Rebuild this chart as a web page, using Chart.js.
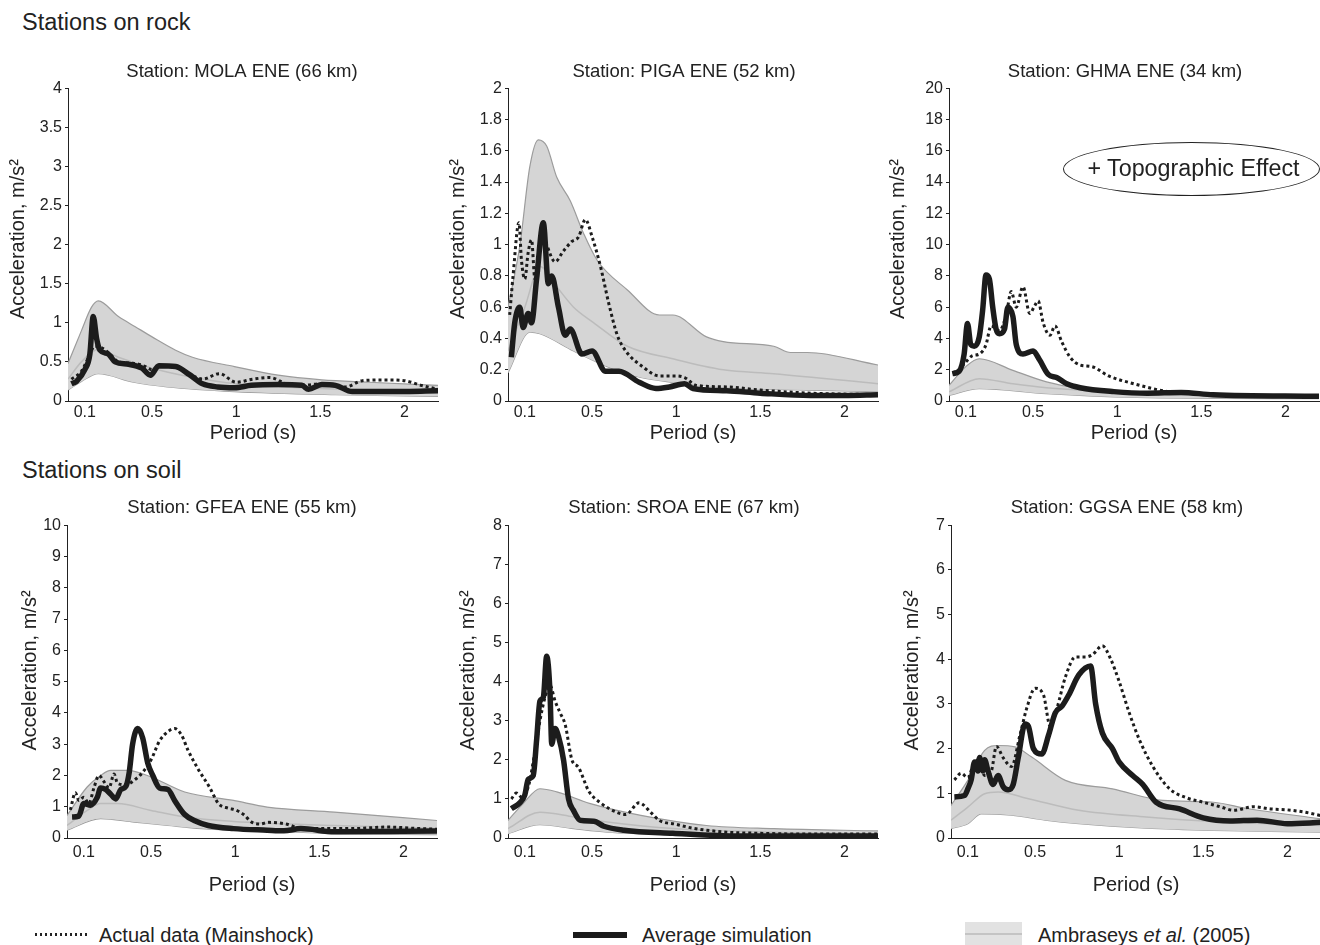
<!DOCTYPE html>
<html><head><meta charset="utf-8">
<script src="https://cdn.jsdelivr.net/npm/chart.js@4.4.1/dist/chart.umd.min.js"></script>
<style>
html,body{margin:0;padding:0;background:#fff;}
body{width:1320px;height:945px;position:relative;overflow:hidden;font-family:"Liberation Sans",Arial,Helvetica,sans-serif;color:#222;}
canvas{position:absolute;}
.hdr{position:absolute;left:22px;font-size:23.5px;line-height:28px;white-space:nowrap;}
.leg{position:absolute;font-size:20px;line-height:24px;white-space:nowrap;}
.sw{position:absolute;}
#ell{position:absolute;left:1063px;top:142px;width:257px;height:54px;border:1px solid #222;border-radius:50%;box-sizing:border-box;}
#elltxt{position:absolute;left:1066px;top:154px;width:255px;text-align:center;font-size:23.3px;line-height:28px;white-space:nowrap;}
</style></head><body>
<div class="hdr" style="top:8px">Stations on rock</div>
<div class="hdr" style="top:456px">Stations on soil</div>

<canvas id="c1" width="484" height="400" style="left:0px;top:50px"></canvas>
<canvas id="c2" width="488" height="400" style="left:440px;top:50px"></canvas>
<canvas id="c3" width="490" height="400" style="left:880px;top:50px"></canvas>
<canvas id="c4" width="484" height="415" style="left:0px;top:486px"></canvas>
<canvas id="c5" width="488" height="415" style="left:440px;top:486px"></canvas>
<canvas id="c6" width="494" height="415" style="left:880px;top:486px"></canvas>

<div id="ell"></div>
<div id="elltxt">+ Topographic Effect</div>

<div class="sw" style="left:35px;top:933px;width:55px;height:3px;background:repeating-linear-gradient(to right,#222 0 2.5px,transparent 2.5px 5px);"></div>
<div class="leg" style="left:99px;top:923px">Actual data (Mainshock)</div>
<div class="sw" style="left:573px;top:932px;width:54px;height:6px;background:#1a1a1a;"></div>
<div class="leg" style="left:642px;top:923px">Average simulation</div>
<div class="sw" style="left:965px;top:922px;width:57px;height:23px;background:#e2e2e2;"></div>
<div class="sw" style="left:965px;top:933px;width:57px;height:2px;background:#c4c4c4;"></div>
<div class="leg" style="left:1038px;top:923px">Ambraseys <i>et al.</i> (2005)</div>

<script>
// ---------- DATA: [period (s), acceleration (m/s^2)] ----------
const periodTicks = [0.1, 0.5, 1, 1.5, 2];

const molaUpper  = [[0,0.48],[0.08,0.9],[0.14,1.2],[0.18,1.28],[0.3,1.08],[0.4,0.95],[0.5,0.82],[0.64,0.65],[0.74,0.56],[0.99,0.44],[1.25,0.33],[1.51,0.27],[1.79,0.24],[2.2,0.2]];
const molaLower  = [[0,0.14],[0.08,0.25],[0.18,0.35],[0.39,0.24],[0.59,0.18],[0.99,0.12],[1.59,0.08],[2.2,0.06]];
const molaMedian = [[0,0.28],[0.08,0.5],[0.18,0.66],[0.3,0.56],[0.5,0.42],[0.75,0.3],[1.0,0.22],[1.5,0.16],[2.2,0.12]];
const molaSim    = [[0.02,0.22],[0.05,0.25],[0.1,0.4],[0.13,0.6],[0.15,1.08],[0.17,0.8],[0.19,0.65],[0.24,0.6],[0.28,0.5],[0.36,0.47],[0.44,0.42],[0.49,0.33],[0.54,0.45],[0.64,0.44],[0.72,0.34],[0.8,0.22],[0.89,0.18],[0.99,0.17],[1.09,0.2],[1.25,0.21],[1.39,0.2],[1.43,0.15],[1.51,0.21],[1.59,0.2],[1.69,0.12],[1.89,0.12],[2.2,0.13]];
const molaActual = [[0.02,0.28],[0.08,0.38],[0.12,0.55],[0.16,0.7],[0.2,0.68],[0.25,0.6],[0.3,0.5],[0.4,0.48],[0.45,0.45],[0.5,0.4],[0.55,0.45],[0.65,0.42],[0.72,0.35],[0.8,0.28],[0.9,0.35],[1.0,0.24],[1.1,0.28],[1.2,0.3],[1.3,0.22],[1.4,0.2],[1.5,0.22],[1.65,0.18],[1.75,0.26],[1.9,0.27],[2.0,0.26],[2.1,0.2],[2.2,0.15]];

const pigaUpper  = [[0,0.6],[0.07,0.99],[0.13,1.5],[0.18,1.67],[0.23,1.63],[0.29,1.43],[0.37,1.28],[0.45,1.07],[0.53,0.9],[0.71,0.71],[0.9,0.55],[0.98,0.55],[1.18,0.41],[1.28,0.38],[1.58,0.35],[1.68,0.31],[1.78,0.31],[2.2,0.23]];
const pigaLower  = [[0,0.18],[0.13,0.44],[0.19,0.43],[0.39,0.32],[0.59,0.22],[0.79,0.15],[0.98,0.12],[1.38,0.08],[1.78,0.07],[2.2,0.06]];
const pigaMedian = [[0,0.32],[0.1,0.6],[0.19,0.86],[0.29,0.73],[0.39,0.6],[0.51,0.5],[0.71,0.35],[0.98,0.27],[1.28,0.2],[1.58,0.175],[2.2,0.11]];
const pigaSim    = [[0.02,0.28],[0.04,0.5],[0.07,0.6],[0.09,0.47],[0.12,0.56],[0.14,0.5],[0.17,0.78],[0.21,1.14],[0.24,0.75],[0.26,0.8],[0.3,0.6],[0.34,0.42],[0.37,0.46],[0.44,0.3],[0.5,0.32],[0.58,0.19],[0.66,0.19],[0.78,0.12],[0.88,0.08],[0.96,0.09],[1.05,0.11],[1.1,0.08],[1.3,0.065],[1.5,0.05],[1.8,0.035],[2.0,0.035],[2.2,0.04]];
const pigaActual = [[0.01,0.55],[0.03,0.8],[0.065,1.14],[0.08,0.9],[0.1,0.78],[0.12,0.95],[0.14,1.03],[0.16,0.78],[0.18,0.85],[0.2,1.1],[0.23,1.0],[0.28,0.89],[0.33,0.96],[0.38,1.02],[0.42,1.05],[0.46,1.16],[0.5,1.05],[0.55,0.86],[0.6,0.62],[0.65,0.42],[0.7,0.32],[0.8,0.22],[0.9,0.16],[1.0,0.16],[1.05,0.15],[1.12,0.1],[1.3,0.09],[1.5,0.07],[1.8,0.05],[2.2,0.04]];

const ghmaUpper  = [[0,1.0],[0.1,2.2],[0.18,2.7],[0.38,1.96],[0.58,1.22],[0.78,0.79],[1.18,0.47],[2.2,0.36]];
const ghmaLower  = [[0,0.36],[0.18,0.79],[0.58,0.47],[1.18,0.21],[2.2,0.15]];
const ghmaMedian = [[0,0.58],[0.18,1.43],[0.38,1.1],[0.58,0.85],[0.98,0.58],[1.58,0.36],[2.2,0.26]];
const ghmaSim    = [[0.02,1.75],[0.06,1.9],[0.09,3.0],[0.11,4.95],[0.13,3.6],[0.15,3.5],[0.18,4.1],[0.2,5.8],[0.22,8.05],[0.24,7.8],[0.26,6.0],[0.28,4.6],[0.3,4.3],[0.33,4.6],[0.35,6.0],[0.38,5.4],[0.4,3.6],[0.44,3.0],[0.5,3.2],[0.54,2.6],[0.59,1.7],[0.64,1.5],[0.7,1.1],[0.78,0.85],[0.98,0.6],[1.18,0.5],[1.38,0.55],[1.57,0.4],[2.2,0.3]];
const ghmaActual = [[0.02,1.8],[0.06,2.0],[0.1,2.5],[0.14,2.9],[0.18,3.0],[0.22,3.6],[0.25,4.8],[0.3,4.5],[0.34,5.5],[0.37,7.0],[0.4,6.0],[0.44,7.3],[0.48,5.6],[0.51,6.1],[0.53,6.4],[0.56,5.0],[0.6,4.2],[0.63,4.8],[0.67,3.8],[0.72,2.8],[0.78,2.3],[0.85,2.2],[0.95,1.6],[1.1,1.1],[1.3,0.6],[1.5,0.45],[1.8,0.35],[2.2,0.28]];

const gfeaUpper  = [[0,0.72],[0.12,1.63],[0.2,2.0],[0.26,2.16],[0.36,2.16],[0.5,1.95],[0.7,1.47],[0.99,1.2],[1.19,0.99],[1.59,0.83],[2.2,0.56]];
const gfeaLower  = [[0,0.25],[0.2,0.62],[0.4,0.51],[0.6,0.4],[0.8,0.3],[1.19,0.22],[1.59,0.14],[2.2,0.11]];
const gfeaMedian = [[0,0.4],[0.12,0.88],[0.2,1.1],[0.3,1.1],[0.5,0.88],[0.7,0.67],[0.99,0.53],[1.59,0.4],[2.2,0.3]];
const gfeaSim    = [[0.03,0.67],[0.07,0.7],[0.1,1.1],[0.14,1.05],[0.18,1.3],[0.2,1.6],[0.23,1.55],[0.26,1.4],[0.29,1.25],[0.32,1.55],[0.35,1.65],[0.37,2.1],[0.39,3.0],[0.42,3.5],[0.45,3.2],[0.48,2.4],[0.51,2.0],[0.55,1.6],[0.6,1.55],[0.64,1.2],[0.7,0.75],[0.76,0.55],[0.84,0.4],[0.99,0.3],[1.19,0.25],[1.29,0.23],[1.39,0.3],[1.59,0.2],[2.2,0.22]];
const gfeaActual = [[0.02,0.9],[0.05,1.45],[0.07,1.2],[0.1,1.3],[0.13,1.1],[0.16,1.6],[0.19,2.0],[0.22,1.8],[0.25,1.6],[0.28,2.05],[0.3,1.75],[0.35,1.7],[0.4,1.85],[0.45,2.1],[0.5,2.5],[0.55,3.1],[0.6,3.4],[0.64,3.5],[0.68,3.3],[0.72,2.8],[0.78,2.2],[0.85,1.6],[0.9,1.1],[0.96,0.95],[1.0,0.9],[1.05,0.75],[1.1,0.5],[1.15,0.45],[1.2,0.5],[1.3,0.45],[1.4,0.3],[1.5,0.3],[1.7,0.3],[1.9,0.35],[2.1,0.3],[2.2,0.28]];

const sroaUpper  = [[0,0.45],[0.09,0.88],[0.19,1.26],[0.29,1.18],[0.49,0.88],[0.79,0.58],[1.18,0.32],[1.58,0.24],[2.2,0.18]];
const sroaLower  = [[0,0.11],[0.19,0.34],[0.39,0.24],[0.59,0.15],[0.98,0.09],[2.2,0.04]];
const sroaMedian = [[0,0.24],[0.19,0.66],[0.39,0.54],[0.59,0.41],[0.98,0.24],[1.58,0.15],[2.2,0.11]];
const sroaSim    = [[0.02,0.75],[0.07,0.9],[0.1,1.1],[0.12,1.5],[0.15,1.6],[0.17,2.5],[0.19,3.5],[0.21,3.6],[0.23,4.65],[0.25,3.7],[0.26,2.4],[0.28,2.8],[0.3,2.6],[0.33,2.0],[0.36,1.0],[0.39,0.7],[0.43,0.45],[0.51,0.43],[0.57,0.3],[0.69,0.2],[0.98,0.12],[1.38,0.05],[2.2,0.05]];
const sroaActual = [[0.02,1.0],[0.05,1.15],[0.08,1.05],[0.12,1.3],[0.16,2.2],[0.19,3.0],[0.22,3.6],[0.25,3.9],[0.28,3.5],[0.31,3.2],[0.34,2.9],[0.38,2.0],[0.42,1.8],[0.48,1.2],[0.55,0.9],[0.65,0.65],[0.7,0.6],[0.78,0.9],[0.85,0.65],[0.9,0.45],[1.0,0.35],[1.1,0.25],[1.3,0.15],[1.5,0.12],[1.8,0.1],[2.2,0.1]];

const ggsaUpper  = [[0,0.73],[0.1,1.29],[0.2,1.96],[0.28,2.07],[0.38,2.04],[0.48,1.81],[0.68,1.29],[0.96,1.1],[1.26,0.84],[1.56,0.8],[1.76,0.66],[2.2,0.43]];
const ggsaLower  = [[0,0.21],[0.1,0.32],[0.18,0.54],[0.36,0.51],[0.56,0.4],[0.76,0.32],[1.16,0.22],[1.56,0.17],[2.2,0.13]];
const ggsaMedian = [[0,0.4],[0.1,0.69],[0.2,0.99],[0.28,1.03],[0.46,0.88],[0.76,0.62],[1.16,0.47],[1.56,0.37],[2.2,0.28]];
const ggsaSim    = [[0.02,0.92],[0.08,0.95],[0.1,1.1],[0.12,1.3],[0.14,1.7],[0.16,1.5],[0.17,1.8],[0.19,1.5],[0.2,1.75],[0.22,1.5],[0.25,1.2],[0.28,1.4],[0.31,1.15],[0.34,1.08],[0.37,1.2],[0.4,1.8],[0.44,2.55],[0.46,2.5],[0.49,2.0],[0.54,1.88],[0.58,2.3],[0.62,2.8],[0.66,2.95],[0.7,3.2],[0.76,3.65],[0.83,3.85],[0.86,3.0],[0.9,2.35],[0.96,2.0],[1.0,1.7],[1.08,1.4],[1.14,1.2],[1.22,0.8],[1.36,0.65],[1.5,0.45],[1.66,0.38],[1.82,0.4],[2.0,0.32],[2.2,0.35]];
const ggsaActual = [[0.02,1.3],[0.06,1.45],[0.1,1.35],[0.13,1.6],[0.16,1.75],[0.2,1.4],[0.24,1.5],[0.27,2.05],[0.31,1.8],[0.36,1.6],[0.41,2.3],[0.45,2.9],[0.5,3.35],[0.55,3.2],[0.59,2.5],[0.63,2.9],[0.68,3.6],[0.74,4.05],[0.8,4.05],[0.84,4.1],[0.9,4.3],[0.95,4.0],[1.0,3.5],[1.06,2.8],[1.12,2.2],[1.2,1.6],[1.3,1.1],[1.4,0.9],[1.5,0.8],[1.6,0.7],[1.68,0.62],[1.8,0.7],[1.9,0.65],[2.0,0.63],[2.1,0.58],[2.2,0.5]];

const stationTitles = ['Station: MOLA ENE (66 km)','Station: PIGA ENE (52 km)','Station: GHMA ENE (34 km)',
                       'Station: GFEA ENE (55 km)','Station: SROA ENE (67 km)','Station: GGSA ENE (58 km)'];
const yMaxes = [4, 2, 20, 10, 8, 7];
const ySteps = [0.5, 0.2, 2, 1, 1, 1];

// ---------- CHARTS ----------
Chart.defaults.font.family = '"Liberation Sans", Arial, Helvetica, sans-serif';
Chart.defaults.color = '#222';

const pts = a => a.map(p => ({x: p[0], y: p[1]}));
const fmt = v => String(Number(Number(v).toFixed(3)));

function makePanel(id, title, sets, ymax, ystep, g) {
  const [upper, lower, median, sim, actual] = sets;
  new Chart(document.getElementById(id), {
    type: 'line',
    data: { datasets: [
      { data: pts(sim), borderColor: '#1c1c1c', borderWidth: 5.5, pointRadius: 0, cubicInterpolationMode: 'monotone', fill: false },
      { data: pts(actual), borderColor: '#1c1c1c', borderWidth: 3, borderDash: [3, 3], borderCapStyle: 'butt', pointRadius: 0, cubicInterpolationMode: 'monotone', fill: false },
      { data: pts(median), borderColor: '#bcbcbc', borderWidth: 1.5, pointRadius: 0, cubicInterpolationMode: 'monotone', fill: false },
      { data: pts(upper), borderColor: '#9c9c9c', borderWidth: 1.2, pointRadius: 0, cubicInterpolationMode: 'monotone', fill: '+1', backgroundColor: '#d5d5d5' },
      { data: pts(lower), borderColor: '#9c9c9c', borderWidth: 1.2, pointRadius: 0, cubicInterpolationMode: 'monotone', fill: false }
    ]},
    options: {
      responsive: false, animation: false, events: [],
      layout: { padding: { left: 0, right: 0, top: 0, bottom: g.lb } },
      plugins: {
        legend: { display: false }, tooltip: { enabled: false },
        title: { display: true, text: title, font: { size: 18.5, weight: 'normal' }, color: '#222',
                 padding: { top: g.tpt, bottom: g.tpb } }
      },
      scales: {
        x: {
          type: 'linear', min: 0, max: 2.2,
          afterBuildTicks: s => { s.ticks = periodTicks.map(v => ({ value: v })); },
          afterFit: s => { s.height = g.xh; },
          ticks: { font: { size: 16 }, padding: g.xtp, autoSkip: false, maxRotation: 0, callback: fmt },
          grid: { display: false, drawTicks: false },
          border: { display: true, color: '#222', width: 1 },
          title: { display: true, text: 'Period (s)', font: { size: 20 }, padding: { top: 0, bottom: 4 } }
        },
        y: {
          min: 0, max: ymax,
          afterFit: s => { s.width = g.yw; },
          ticks: { stepSize: ystep, font: { size: 16 }, padding: 3, autoSkip: false, callback: fmt },
          grid: { display: true, drawOnChartArea: false, drawTicks: true, tickLength: 3, color: '#222' },
          border: { display: true, color: '#222', width: 1 },
          title: { display: true, text: g.ylead + 'Acceleration, m/s²', font: { size: 20 }, padding: { top: g.ytp, bottom: 0 } }
        },
        pad: {
          position: 'right', display: true,
          afterFit: s => { s.width = g.dw; },
          ticks: { display: false }, grid: { display: false }, border: { display: false }
        }
      }
    }
  });
}

const topG = { lb: 1, tpt: 11, tpb: 5, xh: 48, xtp: 2, ylead: '  ' };
const botG = { lb: 0, tpt: 11, tpb: 6, xh: 63, xtp: 5, ylead: '    ' };

makePanel('c1', stationTitles[0], [molaUpper, molaLower, molaMedian, molaSim, molaActual], yMaxes[0], ySteps[0], Object.assign({ yw: 68, ytp: 6, dw: 46 }, topG));
makePanel('c2', stationTitles[1], [pigaUpper, pigaLower, pigaMedian, pigaSim, pigaActual], yMaxes[1], ySteps[1], Object.assign({ yw: 68, ytp: 6, dw: 50 }, topG));
makePanel('c3', stationTitles[2], [ghmaUpper, ghmaLower, ghmaMedian, ghmaSim, ghmaActual], yMaxes[2], ySteps[2], Object.assign({ yw: 69, ytp: 6, dw: 51 }, topG));
makePanel('c4', stationTitles[3], [gfeaUpper, gfeaLower, gfeaMedian, gfeaSim, gfeaActual], yMaxes[3], ySteps[3], Object.assign({ yw: 67, ytp: 18, dw: 47 }, botG));
makePanel('c5', stationTitles[4], [sroaUpper, sroaLower, sroaMedian, sroaSim, sroaActual], yMaxes[4], ySteps[4], Object.assign({ yw: 68, ytp: 16, dw: 50 }, botG));
makePanel('c6', stationTitles[5], [ggsaUpper, ggsaLower, ggsaMedian, ggsaSim, ggsaActual], yMaxes[5], ySteps[5], Object.assign({ yw: 71, ytp: 20, dw: 53 }, botG));
</script>
</body></html>
